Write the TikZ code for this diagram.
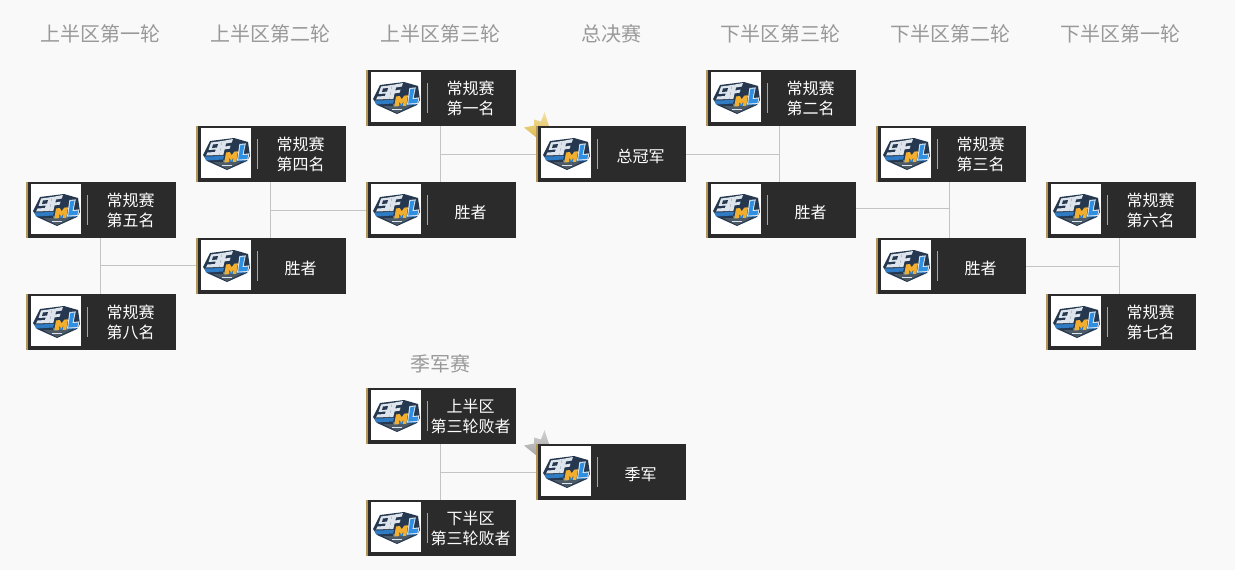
\documentclass[tikz,border=0pt]{standalone}
\usepackage{fontspec}
\setmainfont{Noto Sans CJK SC}
\definecolor{bgc}{HTML}{F9F9F9}
\definecolor{cardc}{HTML}{2B2B2B}
\definecolor{goldc}{HTML}{B4985A}
\definecolor{linec}{HTML}{C4C4C4}
\definecolor{headc}{HTML}{999999}
\definecolor{crowngt}{HTML}{F3E3A8}
\definecolor{crowngb}{HTML}{DDB84C}
\definecolor{crownst}{HTML}{D2D2D2}
\definecolor{crownsb}{HTML}{A6A6A6}
\definecolor{shieldc}{HTML}{26384F}
\definecolor{shieldg}{HTML}{4D5A68}
\definecolor{shieldb}{HTML}{2F7CC4}
\definecolor{logoo}{HTML}{F2AE2E}
\definecolor{logob}{HTML}{2F8FE0}
\definecolor{logos}{HTML}{DDE4EC}
\begin{document}
\begin{tikzpicture}[x=1pt,y=-1pt,line join=round,
  labeltext/.style={text=white,font=\fontsize{16}{20}\selectfont,align=center,inner sep=0pt},
  headtext/.style={text=headc,font=\fontsize{20}{22}\selectfont,inner sep=0pt},
  conn/.style={draw=linec,line width=0.8pt}]
\path[use as bounding box,fill=bgc] (0,0) rectangle (1235,570);
\newcommand{\logo}[2]{%
 \begin{scope}[shift={(#1,#2)}]
  \fill[white] (0,0) rectangle (50,50);
  % shield
  \fill[shieldc] (2,27) -- (9,13) -- (33,10) -- (47,14) -- (49,28) -- (46,33) -- (26,42) -- (6,33) -- cycle;
  \fill[shieldg] (12,34) -- (40,34) -- (26,41) -- cycle;
  \fill[shieldb] (3.5,28.5) -- (23,28) -- (22,31.5) -- (5,32.5) -- cycle;
  \fill[shieldb] (22,32) -- (46,30.5) -- (45,33) -- (22,34.5) -- cycle;
  \fill[logos] (21,36.5) rectangle (31,38);
  % silver 9 and F
  \fill[logos] (10,14.5) -- (21,13) -- (18.5,27) -- (5,27.5) -- (6.5,24.5) -- (14,24) -- (14.8,21.5) -- (7.5,22) -- cycle;
  \fill[shieldc] (12,16.5) -- (17,16) -- (16,19.5) -- (11,20) -- cycle;
  \fill[logos] (21,13) -- (32,11) -- (30.8,14.5) -- (25,15.5) -- (24.3,18.5) -- (29.5,17.6) -- (28.8,20.6) -- (23.6,21.4) -- (22.3,27) -- (18.5,27) -- cycle;
  % orange M
  \fill[logoo] (25,24.5) -- (28.8,24) -- (30.7,27.2) -- (33.3,23.6) -- (37,23.3) -- (35.2,33.8) -- (31.8,34) -- (32.6,29.5) -- (30.2,32.8) -- (28.6,30) -- (27.7,34.2) -- (23.2,34.4) -- cycle;
  % blue L with pale outline
  \fill[logos] (38.4,16) -- (44.8,15.4) -- (42.6,26) -- (48.4,25.4) -- (47.2,31.8) -- (36,32.6) -- cycle;
  \fill[logob] (39.4,17) -- (43.6,16.6) -- (41.4,27.2) -- (47.2,26.6) -- (46.4,30.8) -- (37.2,31.6) -- cycle;
 \end{scope}}
\newcommand{\card}[5]{% name, left x, top y, text, vertical offset of the text
 \fill[cardc] (#2,#3) rectangle +(150,56);
 \fill[goldc] (#2,#3) rectangle +(2.4,56);
 \logo{#2+5}{#3+2}
 \fill[gray!70] (#2+60.6,#3+13) rectangle +(1,30);
 \node[labeltext] (#1) at (#2+104.5,#3+#5) {#4};}
\newcommand{\crown}[4]{%
 \shade[top color=#3,bottom color=#4] (#1+0,#2+14) -- (#1-13,#2+3.5) -- (#1-3,#2+1.5) -- (#1-3,#2-4.5) -- (#1+4,#2-2.5) -- (#1+7.5,#2-12) -- (#1+12,#2+2) -- (#1+12,#2+14) -- cycle;}
% connectors
\draw[conn] (100.5,238) -- (100.5,294) (100.5,265.5) -- (197,265.5);
\draw[conn] (270.5,182) -- (270.5,238) (270.5,210) -- (367,210);
\draw[conn] (440.5,126) -- (440.5,182) (440.5,154) -- (537,154);
\draw[conn] (779.5,126) -- (779.5,182) (686,154) -- (779.5,154);
\draw[conn] (949.5,182) -- (949.5,238) (856,208) -- (949.5,208);
\draw[conn] (1119.5,238) -- (1119.5,294) (1026,266) -- (1119.5,266);
\draw[conn] (440.5,444) -- (440.5,500) (440.5,472) -- (537,472);
% crowns
\crown{537}{124}{crowngt}{crowngb}
\crown{537}{442}{crownst}{crownsb}
% cards
\card{a1}{26}{182}{常规赛\\第五名}{28.5}
\card{a2}{26}{294}{常规赛\\第八名}{28.5}
\card{b1}{196}{126}{常规赛\\第四名}{28.5}
\card{b2}{196}{238}{胜者}{30}
\card{c1}{366}{70}{常规赛\\第一名}{28.5}
\card{c2}{366}{182}{胜者}{30}
\card{f}{536}{126}{总冠军}{30}
\card{d1}{706}{70}{常规赛\\第二名}{28.5}
\card{d2}{706}{182}{胜者}{30}
\card{e1}{876}{126}{常规赛\\第三名}{28.5}
\card{e2}{876}{238}{胜者}{30}
\card{g1}{1046}{182}{常规赛\\第六名}{28.5}
\card{g2}{1046}{294}{常规赛\\第七名}{28.5}
\card{t1}{366}{388}{上半区\\第三轮败者}{28.5}
\card{t2}{366}{500}{下半区\\第三轮败者}{28.5}
\card{t3}{536}{444}{季军}{30}
% headers
\foreach \x/\t/\n in {100.5/上半区第一轮/h1,270.5/上半区第二轮/h2,440.5/上半区第三轮/h3,611/总决赛/h4,780.5/下半区第三轮/h5,950.5/下半区第二轮/h6,1120.5/下半区第一轮/h7}
  \node[headtext] (\n) at (\x,33.8) {\t};
\node[headtext] (h8) at (440.5,363.8) {季军赛};
\end{tikzpicture}
\end{document}
